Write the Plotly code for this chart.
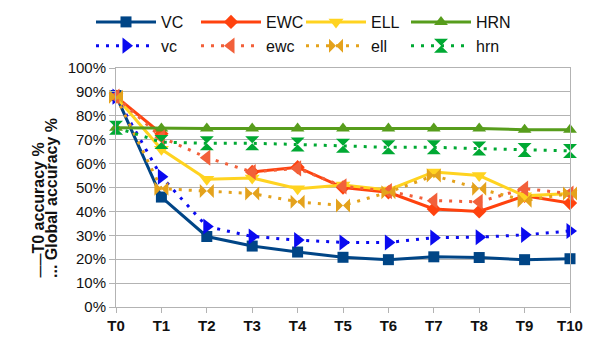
import plotly.graph_objects as go

# Task steps on the x axis
steps = ["T0", "T1", "T2", "T3", "T4", "T5", "T6", "T7", "T8", "T9", "T10"]

# T0 accuracy (%), solid lines
vc_t0 = [88.5, 46, 29.5, 25.5, 23, 20.8, 19.8, 21, 20.7, 19.8, 20.2]
ewc_t0 = [88, 72.5, None, 56.5, 58.5, 50, 48, 41, 40, 46.5, 43.5]
ell_t0 = [88, 66, 53.5, 54, 49.5, 51, 49, 56.5, 55, 46.5, 47.5]
hrn_t0 = [75, 74.7, 74.7, 74.7, 74.7, 74.7, 74.7, 74.7, 74.7, 74.2, 74.2]

# Global accuracy (%), dotted lines
vc_glob = [88, 54.5, 33.7, 29.5, 28, 27, 27, 29, 29.2, 30.2, 31.8]
ewc_glob = [88, 71, 62.5, 56.5, 58, 50.5, 48.5, 44.5, 44, 49.5, 47.5]
ell_glob = [88, 49.5, 48.5, 47.5, 44, 42.5, 48, 55, 49.5, 44.5, 47.5]
hrn_glob = [75, 69, 68.5, 68.5, 68, 67.5, 66.8, 66.8, 66.3, 65.7, 65.3]

y_ticks = list(range(0, 101, 10))
y_labels = [f"{v}%" for v in y_ticks]

series = [
    ("VC", vc_t0, "#004586", "solid", "square", 11),
    ("EWC", ewc_t0, "#ff420e", "solid", "diamond", 11),
    ("ELL", ell_t0, "#ffd320", "solid", "triangle-down", 13),
    ("HRN", hrn_t0, "#579d1c", "solid", "triangle-up", 12),
    ("vc", vc_glob, "#0a0af0", "3px,7px", "triangle-right", 14),
    ("ewc", ewc_glob, "#f2603a", "3px,7px", "triangle-left", 14),
    ("ell", ell_glob, "#e4a21c", "3px,7px", "bowtie", 14),
    ("hrn", hrn_glob, "#00a933", "3px,7px", "hourglass", 14),
]

fig = go.Figure()
for name, vals, color, dash, symbol, size in series:
    fig.add_trace(go.Scatter(
        x=steps, y=vals, name=name, mode="lines+markers",
        line=dict(color=color, width=3, dash=dash),
        marker=dict(symbol=symbol, size=size, color=color),
        connectgaps=False, cliponaxis=False,
    ))

PL, PR, PT, PB = 116, 35, 68, 33
W, H = 605, 340
pw, ph = W - PL - PR, H - PT - PB

def px_x(p):
    return (p - PL) / pw

def px_y(p):
    return (H - PB - p) / ph

grid = "#b3b3b3"
fig.update_layout(
    width=W, height=H,
    margin=dict(l=PL, r=PR, t=PT, b=PB, autoexpand=False),
    paper_bgcolor="white", plot_bgcolor="white",
    font=dict(family="Liberation Sans, Arial, sans-serif", color="#111"),
    showlegend=True,
    legend=dict(
        orientation="h", xref="container", x=91 / W, xanchor="left",
        yref="container", y=1 - 5 / H, yanchor="top",
        itemwidth=60, entrywidth=30, font=dict(size=16, color="#111"),
        bgcolor="rgba(0,0,0,0)", borderwidth=0, tracegroupgap=0,
    ),
    xaxis=dict(
        type="category", range=[0, 10], showgrid=False,
        showline=True, linecolor=grid, linewidth=1, mirror=True,
        ticks="outside", ticklen=5, tickcolor=grid,
        tickfont=dict(size=15, family="Liberation Sans, Arial, sans-serif", weight="bold", color="#111"),
    ),
    yaxis=dict(
        range=[0, 100], tickmode="array", tickvals=y_ticks, ticktext=y_labels,
        showgrid=True, gridcolor=grid, gridwidth=1,
        showline=True, linecolor=grid, linewidth=1, mirror=True,
        ticks="outside", ticklen=6, tickcolor=grid,
        tickfont=dict(size=15, color="#111"), zeroline=False,
    ),
)

# Two-line y axis title: line style key for each metric
title_font = dict(size=16, family="Liberation Sans, Arial, sans-serif", weight="bold", color="#111")
fig.add_annotation(
    text="<span style='font-size:12px'>——</span>T0 accuracy %", textangle=-90,
    xref="paper", yref="paper",
    x=px_x(38), y=px_y(280), xanchor="center", yanchor="bottom",
    showarrow=False, font=title_font,
)
fig.add_annotation(
    text="... Global accuracy %", textangle=-90, xref="paper", yref="paper",
    x=px_x(51), y=px_y(280), xanchor="center", yanchor="bottom",
    showarrow=False, font=title_font,
)

fig.write_html("out.html")
